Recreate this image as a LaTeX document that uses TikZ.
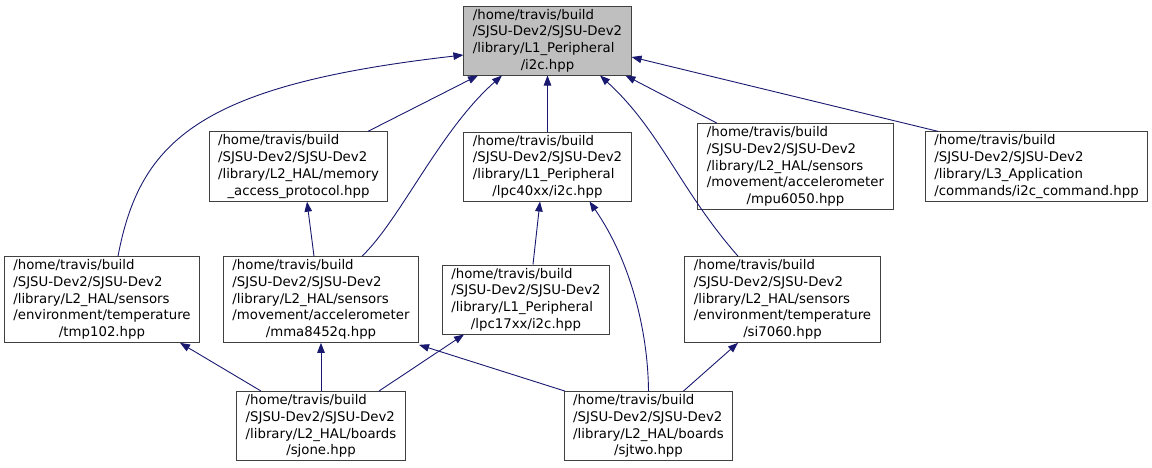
\documentclass[tikz,border=0pt]{standalone}
\usepackage{fontspec}
\setmainfont{DejaVu Sans}
\usetikzlibrary{arrows.meta, positioning}

\definecolor{edgeblue}{HTML}{191970}
\definecolor{boxline}{HTML}{404040}
\definecolor{focusfill}{HTML}{BFBFBF}

\begin{document}
\begin{tikzpicture}[
        x=1pt, y=-1pt,
        >={Triangle[length=10pt,width=7.5pt]},
        font=\fontsize{13.3pt}{16.7pt}\selectfont,
        hdr/.style={rectangle, draw=boxline, line width=1pt, fill=white,
                    inner xsep=9pt, inner ysep=3pt, minimum height=69pt,
                    align=left, execute at begin node={\rule{0pt}{14pt}}},
        hdrfive/.style={hdr, minimum height=84pt},
        focus/.style={hdr, fill=focusfill},
        inc/.style={<-, draw=edgeblue, line width=0.9pt}
    ]
    \useasboundingbox (0,0) rectangle (1152,467);

    % Header in focus at top
    \node[focus] (i2c) at (547.5,40.5) {/home/travis/build\\/SJSU-Dev2/SJSU-Dev2\\/library/L1\_Peripheral\\\hfil /i2c.hpp};

    % Direct includers
    \node[hdr]     (memproto) at (298.5,166.5) {/home/travis/build\\/SJSU-Dev2/SJSU-Dev2\\/library/L2\_HAL/memory\\\hfil \_access\_protocol.hpp};
    \node[hdr]     (lpcfour)  at (547.5,166.5) {/home/travis/build\\/SJSU-Dev2/SJSU-Dev2\\/library/L1\_Peripheral\\\hfil /lpc40xx/i2c.hpp};
    \node[hdrfive] (mpu)      at (795.5,166.5) {/home/travis/build\\/SJSU-Dev2/SJSU-Dev2\\/library/L2\_HAL/sensors\\/movement/accelerometer\\\hfil /mpu6050.hpp};
    \node[hdr]     (i2ccmd)   at (1036.5,166.5) {/home/travis/build\\/SJSU-Dev2/SJSU-Dev2\\/library/L3\_Application\\/commands/i2c\_command.hpp};

    % Sensor row
    \node[hdrfive] (tmp)     at (102,299.5) {/home/travis/build\\/SJSU-Dev2/SJSU-Dev2\\/library/L2\_HAL/sensors\\/environment/temperature\\\hfil /tmp102.hpp};
    \node[hdrfive] (mma)     at (321,299.5) {/home/travis/build\\/SJSU-Dev2/SJSU-Dev2\\/library/L2\_HAL/sensors\\/movement/accelerometer\\\hfil /mma8452q.hpp};
    \node[hdr]     (lpcone)  at (526,299.5) {/home/travis/build\\/SJSU-Dev2/SJSU-Dev2\\/library/L1\_Peripheral\\\hfil /lpc17xx/i2c.hpp};
    \node[hdrfive] (si)      at (782.5,299.5) {/home/travis/build\\/SJSU-Dev2/SJSU-Dev2\\/library/L2\_HAL/sensors\\/environment/temperature\\\hfil /si7060.hpp};

    % Boards at bottom
    \node[hdr] (sjone) at (321,426) {/home/travis/build\\/SJSU-Dev2/SJSU-Dev2\\/library/L2\_HAL/boards\\\hfil /sjone.hpp};
    \node[hdr] (sjtwo) at (648.5,426) {/home/travis/build\\/SJSU-Dev2/SJSU-Dev2\\/library/L2\_HAL/boards\\\hfil /sjtwo.hpp};

    % Includes of i2c.hpp
    \draw[inc] ([yshift=-14.5pt]i2c.west) .. controls (200,85) and (140,140) .. ([xshift=16pt]tmp.north);
    \draw[inc] ([xshift=-69.5pt]i2c.south) -- ([xshift=69.5pt]memproto.north);
    \draw[inc] ([xshift=-45.5pt]i2c.south) .. controls (440,130) and (400,220) .. ([xshift=41pt]mma.north);
    \draw[inc] (i2c.south) -- (lpcfour.north);
    \draw[inc] ([xshift=78pt]i2c.south) -- ([xshift=-78.5pt]mpu.north);
    \draw[inc] ([yshift=-16.5pt]i2c.east) -- ([xshift=-98.5pt]i2ccmd.north);
    \draw[inc] ([xshift=52.5pt]i2c.south) .. controls (660,130) and (680,190) .. ([xshift=-44.5pt]si.north);

    % Second level
    \draw[inc] ([xshift=8.5pt]memproto.south) -- ([xshift=-7pt]mma.north);
    \draw[inc] ([xshift=-7.5pt]lpcfour.south) -- ([xshift=7pt]lpcone.north);
    \draw[inc] ([xshift=42pt]lpcfour.south) .. controls (630,260) and (648,330) .. (sjtwo.north);

    % Boards
    \draw[inc] ([xshift=78pt]tmp.south) -- ([xshift=-60pt]sjone.north);
    \draw[inc] (mma.south) -- (sjone.north);
    \draw[inc] ([xshift=-62pt]lpcone.south) -- ([xshift=58pt]sjone.north);
    \draw[inc] ([yshift=-2pt]mma.south east) -- ([xshift=1pt]sjtwo.north west);
    \draw[inc] ([xshift=-44.5pt]si.south) -- ([xshift=35pt]sjtwo.north);

\end{tikzpicture}
\end{document}
